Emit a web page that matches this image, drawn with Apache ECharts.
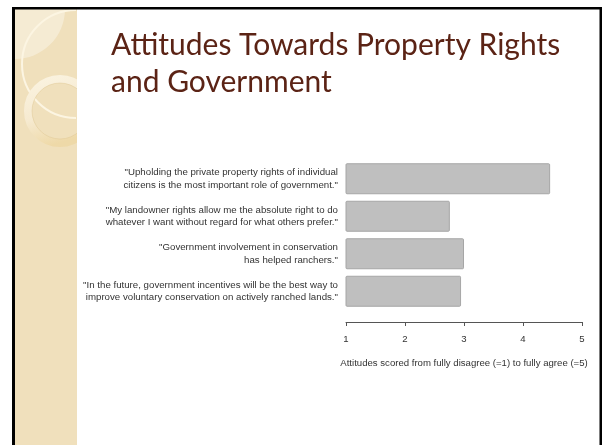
<!DOCTYPE html>
<html>
<head>
<meta charset="utf-8">
<script src="https://cdn.jsdelivr.net/npm/echarts@6/dist/echarts.min.js"></script>
<style>
  html, body { margin: 0; padding: 0; background: #fff; }
  #chart { width: 602px; height: 445px; }
</style>
</head>
<body>
<div id="chart"></div>
<script>
const statements = [
  '"Upholding the private property rights of individual\ncitizens is the most important role of government."',
  '"My landowner rights allow me the absolute right to do\nwhatever I want without regard for what others prefer."',
  '"Government involvement in conservation\nhas helped ranchers."',
  '"In the future, government incentives will be the best way to\nimprove voluntary conservation on actively ranched lands."'
]
const scores = [4.46, 2.76, 3.0, 2.95]
const scaleTicks = [1, 2, 3, 4, 5]

const chart = echarts.init(document.getElementById('chart'))

const option = {
  animation: false,
  backgroundColor: '#fff',
  title: {
    text: 'Attitudes Towards Property Rights\nand Government',
    left: 106,
    top: 22,
    textStyle: {
      fontFamily: 'Lato',
      fontWeight: 'normal',
      fontSize: 30,
      lineHeight: 37,
      color: '#5b2315',
    },
  },
  graphic: [
    // left decorative strip
    { type: 'rect', z: -10, shape: { x: 15, y: 9, width: 62, height: 440 }, style: { fill: '#f0e0bc' } },
    { type: 'circle', z: -9, shape: { cx: 15, cy: 9, r: 50 }, style: { fill: 'rgba(255,255,255,0.35)' } },
    {
      type: 'arc', z: -8,
      shape: { cx: 76, cy: 64, r: 54, startAngle: Math.PI / 2, endAngle: Math.PI * 1.5, clockwise: true },
      style: { stroke: '#fcf5e2', lineWidth: 2, fill: null },
    },
    {
      type: 'circle', z: -8,
      shape: { cx: 60, cy: 111, r: 32 },
      style: {
        fill: null,
        lineWidth: 8,
        stroke: {
          type: 'linear', x: 0, y: 0, x2: 0.3, y2: 1,
          colorStops: [
            { offset: 0, color: '#fbf4e2' },
            { offset: 0.6, color: '#f6ead0' },
            { offset: 1, color: '#eed9a8' },
          ],
        },
      },
    },
    { type: 'circle', z: -7, shape: { cx: 60, cy: 111, r: 28 }, style: { fill: null, stroke: 'rgba(220,195,140,0.5)', lineWidth: 0.8 } },
    // clip decoration at the strip edge
    { type: 'rect', z: -6, shape: { x: 77, y: 9, width: 25, height: 160 }, style: { fill: '#fff' } },
    // slide border
    { type: 'rect', z: 10, shape: { x: 12, y: 7, width: 3, height: 440 }, style: { fill: '#000' } },
    { type: 'rect', z: 10, shape: { x: 12, y: 7, width: 590, height: 2.5 }, style: { fill: '#000' } },
    { type: 'rect', z: 10, shape: { x: 599.5, y: 7, width: 2.5, height: 440 }, style: { fill: '#000' } },
  ],
  grid: {
    left: 346,
    right: 20,
    top: 160,
    bottom: 135,
    containLabel: false,
  },
  xAxis: {
    type: 'value',
    min: 1,
    max: 5,
    interval: 1,
    offset: 12,
    name: 'Attitudes scored from fully disagree (=1) to fully agree (=5)',
    nameLocation: 'middle',
    nameGap: 36,
    nameTextStyle: {
      fontFamily: 'Liberation Sans',
      fontSize: 9.6,
      color: '#333',
    },
    axisLine: { show: true, lineStyle: { color: '#555', width: 1 } },
    axisTick: { show: true, length: 4, lineStyle: { color: '#555' } },
    axisLabel: {
      margin: 12,
      fontFamily: 'Liberation Sans',
      fontSize: 9.6,
      color: '#333',
      formatter: (v) => (scaleTicks.includes(v) ? String(v) : ''),
    },
    splitLine: { show: false },
  },
  yAxis: {
    type: 'category',
    inverse: true,
    data: statements,
    axisLine: { show: false },
    axisTick: { show: false },
    axisLabel: {
      margin: 8,
      fontFamily: 'Liberation Sans',
      fontSize: 9.7,
      lineHeight: 12.6,
      color: '#333',
      align: 'right',
    },
  },
  series: [
    {
      type: 'bar',
      data: scores,
      barWidth: 31,
      itemStyle: {
        color: '#bfbfbf',
        borderColor: '#a6a6a6',
        borderWidth: 1,
        borderRadius: 1,
      },
    },
  ],
}

chart.setOption(option)
</script>
</body>
</html>
